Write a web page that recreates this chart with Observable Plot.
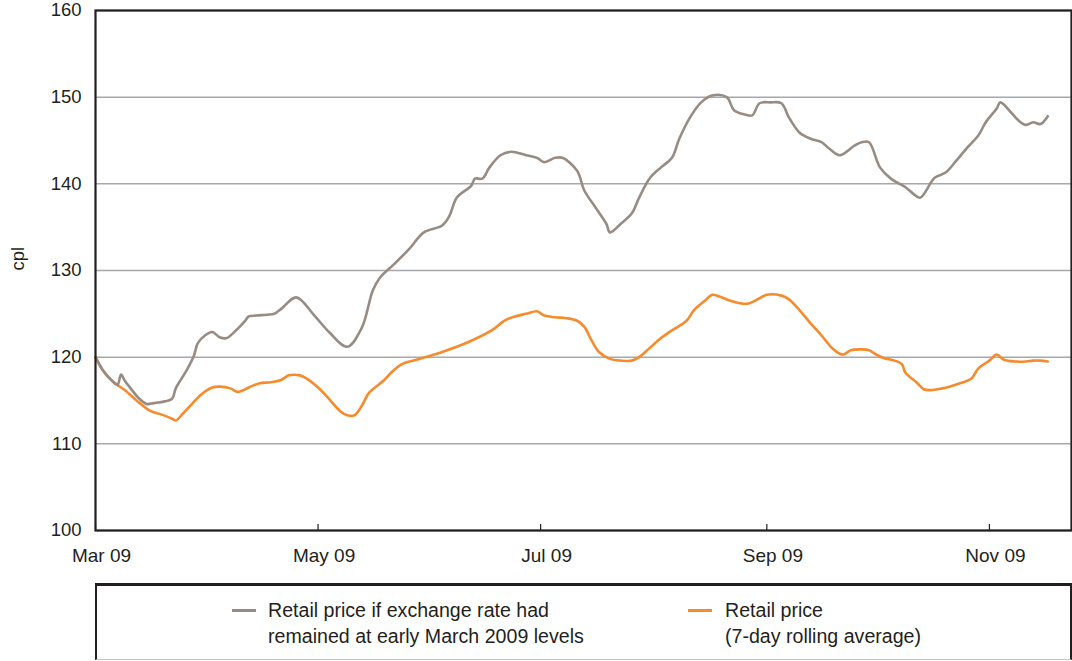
<!DOCTYPE html>
<html>
<head>
<meta charset="utf-8">
<script src="https://cdn.jsdelivr.net/npm/d3@7"></script>
<script src="https://cdn.jsdelivr.net/npm/@observablehq/plot@0.6"></script>
<style>
  html, body { margin: 0; padding: 0; background: #fff; }
  body { width: 1072px; height: 661px; overflow: hidden; font-family: "Liberation Sans", Arial, sans-serif; color: #231f20; }
  #chart svg { display: block; }
  #legend { position: relative; margin-top: 8px; margin-left: 95px; width: 973px; height: 73px;
            border-top: 3px solid #231f20; border-left: 2px solid #231f20; border-right: 2px solid #231f20; border-bottom: 1px solid #c4c4c4; }
  .sw { position: absolute; width: 24px; height: 3px; top: 23px; }
  .lt { position: absolute; top: 11px; font-size: 19.6px; line-height: 26px; white-space: nowrap; color: #231f20; }
</style>
</head>
<body>
<div id="chart"></div>
<div id="legend"></div>
<script>
// Series 1: retail price if exchange rate had remained at early March 2009 levels (cpl)
const exDates = [
  "2009-03-01","2009-03-03","2009-03-05","2009-03-07","2009-03-08","2009-03-09","2009-03-11","2009-03-13","2009-03-15","2009-03-17","2009-03-20","2009-03-22","2009-03-23","2009-03-26","2009-03-28","2009-03-29","2009-03-31",
  "2009-04-02","2009-04-04","2009-04-06","2009-04-07","2009-04-09","2009-04-11","2009-04-12","2009-04-14","2009-04-17","2009-04-19","2009-04-21","2009-04-25","2009-04-30",
  "2009-05-04","2009-05-09","2009-05-13","2009-05-16","2009-05-18","2009-05-22","2009-05-26","2009-05-30",
  "2009-06-04","2009-06-06","2009-06-08","2009-06-12","2009-06-13","2009-06-15","2009-06-17","2009-06-20","2009-06-23","2009-06-27","2009-06-30",
  "2009-07-02","2009-07-05","2009-07-07","2009-07-11","2009-07-13","2009-07-16","2009-07-19","2009-07-20","2009-07-23","2009-07-26","2009-07-28","2009-07-31",
  "2009-08-03","2009-08-06","2009-08-08","2009-08-11","2009-08-14","2009-08-17","2009-08-21","2009-08-23","2009-08-26","2009-08-28","2009-08-30",
  "2009-09-02","2009-09-05","2009-09-07","2009-09-10","2009-09-13","2009-09-16","2009-09-18","2009-09-21","2009-09-25","2009-09-27","2009-09-29",
  "2009-10-02","2009-10-05","2009-10-09","2009-10-11","2009-10-13","2009-10-17","2009-10-20","2009-10-23","2009-10-26","2009-10-29","2009-10-31",
  "2009-11-03","2009-11-04","2009-11-07","2009-11-09","2009-11-11","2009-11-13","2009-11-15","2009-11-17"
];
const exValues = [
  120.0,118.5,117.5,116.8,118.0,117.3,116.2,115.2,114.6,114.7,114.9,115.2,116.4,118.5,120.2,121.6,122.5,
  122.9,122.3,122.2,122.5,123.3,124.2,124.7,124.8,124.9,125.0,125.6,126.9,124.8,
  122.9,121.2,123.4,127.7,129.2,130.8,132.5,134.4,
  135.2,136.3,138.4,139.8,140.6,140.6,141.9,143.3,143.7,143.3,143.0,
  142.5,143.0,143.0,141.5,139.2,137.3,135.4,134.4,135.4,136.6,138.4,140.7,
  141.9,143.0,145.2,147.7,149.4,150.2,150.0,148.5,148.0,147.9,149.3,
  149.4,149.3,147.7,145.9,145.2,144.8,144.1,143.3,144.4,144.8,144.8,
  141.9,140.6,139.6,138.9,138.4,140.7,141.3,142.7,144.2,145.6,147.1,
  148.7,149.4,148.2,147.3,146.8,147.1,146.9,147.8
];

// Series 2: retail price, 7-day rolling average (cpl)
const rpDates = [
  "2009-03-01","2009-03-03","2009-03-05","2009-03-07","2009-03-09","2009-03-12","2009-03-16","2009-03-19","2009-03-22","2009-03-23","2009-03-25","2009-03-27","2009-03-30",
  "2009-04-02","2009-04-04","2009-04-07","2009-04-09","2009-04-12","2009-04-15","2009-04-18","2009-04-21","2009-04-23","2009-04-26","2009-04-28",
  "2009-05-01","2009-05-04","2009-05-07","2009-05-09","2009-05-11","2009-05-13","2009-05-15","2009-05-19","2009-05-21","2009-05-24","2009-05-28",
  "2009-06-01","2009-06-04","2009-06-08","2009-06-12","2009-06-15","2009-06-18","2009-06-21","2009-06-24","2009-06-27","2009-06-30",
  "2009-07-02","2009-07-05","2009-07-08","2009-07-11","2009-07-13","2009-07-15","2009-07-17","2009-07-20","2009-07-23","2009-07-26","2009-07-28","2009-07-31",
  "2009-08-03","2009-08-06","2009-08-10","2009-08-12","2009-08-15","2009-08-17","2009-08-19","2009-08-22","2009-08-25","2009-08-27","2009-08-30",
  "2009-09-01","2009-09-05","2009-09-07","2009-09-10","2009-09-13","2009-09-16","2009-09-19","2009-09-21","2009-09-22","2009-09-24","2009-09-27","2009-09-29",
  "2009-10-01","2009-10-03","2009-10-06","2009-10-08","2009-10-09","2009-10-12","2009-10-14","2009-10-16","2009-10-19","2009-10-21","2009-10-24","2009-10-27","2009-10-29",
  "2009-11-01","2009-11-03","2009-11-05","2009-11-08","2009-11-11","2009-11-13","2009-11-15","2009-11-17"
];
const rpValues = [
  120.0,118.5,117.5,116.8,116.2,115.1,113.8,113.4,112.9,112.7,113.5,114.4,115.7,
  116.5,116.6,116.4,116.0,116.5,117.0,117.1,117.4,117.9,117.9,117.5,
  116.5,115.2,113.8,113.3,113.3,114.4,115.9,117.3,118.2,119.2,119.7,
  120.2,120.6,121.2,121.9,122.5,123.2,124.2,124.7,125.0,125.3,
  124.8,124.6,124.5,124.2,123.5,121.9,120.6,119.8,119.6,119.6,120.0,121.1,
  122.2,123.1,124.2,125.4,126.5,127.2,127.0,126.5,126.2,126.2,126.8,
  127.2,127.1,126.7,125.4,123.9,122.5,121.0,120.4,120.3,120.8,120.9,120.8,
  120.3,119.9,119.6,119.2,118.2,117.1,116.3,116.2,116.4,116.6,117.0,117.5,118.7,
  119.6,120.3,119.7,119.5,119.5,119.6,119.6,119.5
];

// Axis ticks
const xTicks = ["2009-03-01","2009-05-01","2009-07-01","2009-09-01","2009-11-01"];
const yTicks = [100, 110, 120, 130, 140, 150, 160];
const yLabel = "cpl";
const seriesNames = [
  ["Retail price if exchange rate had", "remained at early March 2009 levels"],
  ["Retail price", "(7-day rolling average)"]
];
const colors = ["#978c83", "#f68b2d"];

const ex = exDates.map((d, i) => ({date: new Date(d), value: exValues[i]}));
const rp = rpDates.map((d, i) => ({date: new Date(d), value: rpValues[i]}));
const xt = xTicks.map(d => new Date(d));

const chart = Plot.plot({
  width: 1072,
  height: 575,
  marginLeft: 95,
  marginRight: 1,
  marginTop: 10,
  marginBottom: 45,
  style: {fontFamily: "'Liberation Sans', Arial, sans-serif", fontSize: "18.5px", color: "#231f20", background: "#fff", overflow: "visible"},
  x: {type: "utc", domain: [new Date("2009-03-01"), new Date("2009-11-23T12:00:00Z")]},
  y: {domain: [100, 160]},
  marks: [
    Plot.gridY(yTicks, {stroke: "#a8a8ab", strokeOpacity: 1, strokeWidth: 1.5}),
    Plot.axisY(yTicks, {tickSize: 0, tickPadding: 14, label: null, fill: "#231f20"}),
    Plot.axisX(xt, {tickSize: 0, tickPadding: 18, dx: 6, label: null, tickFormat: d3.utcFormat("%b %y"), fill: "#231f20", fontSize: 19}),
    Plot.axisX(xt, {tickSize: -6, text: null, label: null, stroke: "#231f20", strokeWidth: 1.2}),
    Plot.line(rp, {x: "date", y: "value", stroke: colors[1], strokeWidth: 2.6, curve: "catmull-rom"}),
    Plot.line(ex, {x: "date", y: "value", stroke: colors[0], strokeWidth: 2.6, curve: "catmull-rom"}),
    Plot.frame({stroke: "#231f20", strokeWidth: 2.2}),
    Plot.text([yLabel], {frameAnchor: "left", dx: -77, rotate: -90, fontSize: 18.5, fill: "#231f20"})
  ]
});
document.getElementById("chart").appendChild(chart);

// Legend
const legend = document.getElementById("legend");
const items = [{sw: 135, tx: 171}, {sw: 591, tx: 628}];
items.forEach((it, i) => {
  const s = document.createElement("div");
  s.className = "sw";
  s.style.left = it.sw + "px";
  s.style.background = colors[i];
  legend.appendChild(s);
  const t = document.createElement("div");
  t.className = "lt";
  t.style.left = it.tx + "px";
  t.innerHTML = seriesNames[i].join("<br>");
  legend.appendChild(t);
});
</script>
</body>
</html>
